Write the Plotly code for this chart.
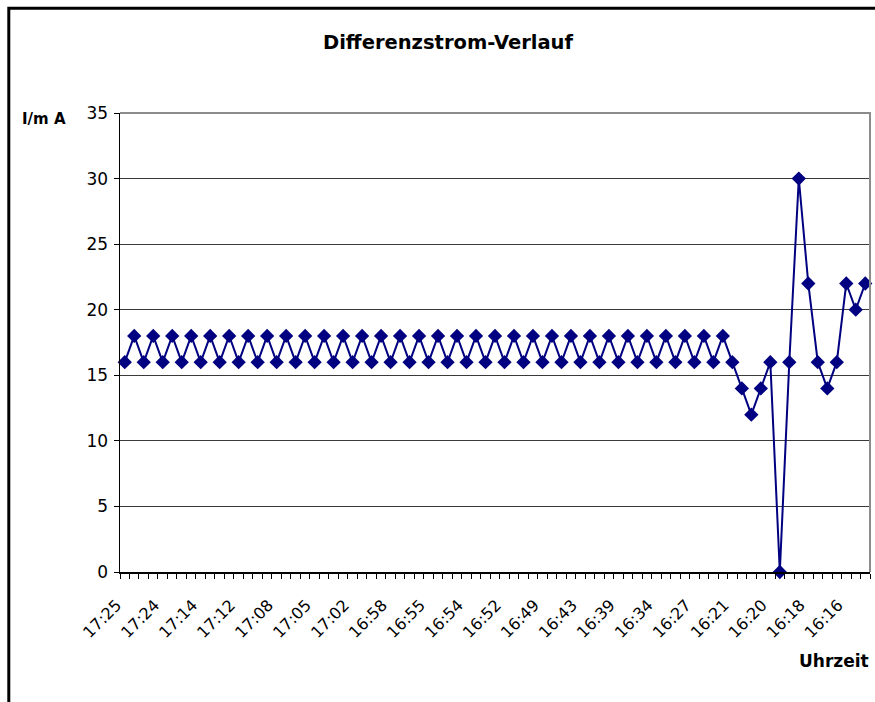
import plotly.graph_objects as go

# Measurement index (one per reading, 79 readings)
readings = list(range(1, 80))

# Differenzstrom in mA
current_mA = [
    16, 18, 16, 18, 16, 18, 16, 18, 16, 18,
    16, 18, 16, 18, 16, 18, 16, 18, 16, 18,
    16, 18, 16, 18, 16, 18, 16, 18, 16, 18,
    16, 18, 16, 18, 16, 18, 16, 18, 16, 18,
    16, 18, 16, 18, 16, 18, 16, 18, 16, 18,
    16, 18, 16, 18, 16, 18, 16, 18, 16, 18,
    16, 18, 16, 18,
    16, 14, 12, 14, 16, 0, 16, 30, 22, 16, 14, 16, 22, 20, 22,
]

# Time labels shown on every fourth reading
time_labels = [
    "17:25", "17:24", "17:14", "17:12", "17:08", "17:05", "17:02",
    "16:58", "16:55", "16:54", "16:52", "16:49", "16:43", "16:39",
    "16:34", "16:27", "16:21", "16:20", "16:18", "16:16",
]
label_positions = readings[::4]

y_ticks = [0, 5, 10, 15, 20, 25, 30, 35]

NAVY = "#000080"
FONT = "DejaVu Sans"

fig = go.Figure()
fig.add_trace(go.Scatter(
    x=readings, y=current_mA, mode="lines+markers",
    line=dict(color=NAVY, width=2),
    marker=dict(symbol="diamond", size=11, color=NAVY),
    showlegend=False, cliponaxis=False, hoverinfo="skip",
))

W, H = 875, 702
L, R, T, B = 120, 870, 113, 572
pw, ph = R - L, B - T

def px(x):
    return (x - L) / pw

def py(y):
    return (B - y) / ph

fig.update_layout(
    width=W, height=H,
    margin=dict(l=L, r=W - R, t=T, b=H - B, autoexpand=False),
    paper_bgcolor="white", plot_bgcolor="white",
    font=dict(family=FONT, color="black"),
    hovermode=False,
    title=dict(
        text="<b>Differenzstrom-Verlauf</b>",
        font=dict(family=FONT, size=19.5, color="black"),
        xref="container", yref="container",
        x=448 / W, y=1 - 42 / H,
        xanchor="center", yanchor="middle",
    ),
    xaxis=dict(
        range=[0.5, 79.5], tickmode="array",
        tickvals=label_positions, ticktext=time_labels,
        tickangle=-45, tickfont=dict(family=FONT, size=16, color="black"),
        ticks="", showgrid=False, zeroline=False,
        ticklabelshift=-8, ticklabelstandoff=16,
        showline=True, linecolor="black", linewidth=1.5,
        minor=dict(tick0=0.5, dtick=1, ticks="outside", ticklen=5,
                   tickcolor="black", tickwidth=1, showgrid=False),
    ),
    yaxis=dict(
        range=[0, 35], tickmode="array", tickvals=y_ticks,
        tickfont=dict(family=FONT, size=17, color="black"),
        ticks="outside", ticklen=5, tickcolor="black", tickwidth=1,
        ticklabelstandoff=2,
        showgrid=True, gridcolor="#3a3a3a", gridwidth=1,
        zeroline=False, showline=True, linecolor="black", linewidth=1.5,
    ),
    shapes=[
        dict(type="path", xref="paper", yref="paper",
             path="M 0,1 L 1,1 L 1,0",
             line=dict(color="#8c8c8c", width=2), layer="above"),
        dict(type="rect", xref="paper", yref="paper",
             x0=px(8.8), x1=px(900), y0=py(740), y1=py(8.3),
             line=dict(color="black", width=3), layer="above"),
    ],
    annotations=[
        dict(text="<b>I/m A</b>", xref="paper", yref="paper",
             x=px(44), y=py(119), xanchor="center", yanchor="middle",
             showarrow=False, font=dict(family=FONT, size=15, color="black")),
        dict(text="<b>Uhrzeit</b>", xref="paper", yref="paper",
             x=px(834), y=py(661), xanchor="center", yanchor="middle",
             showarrow=False, font=dict(family=FONT, size=17, color="black")),
    ],
)

fig.write_html(
    "out.html",
    config={"displayModeBar": False, "staticPlot": True},
    post_script="document.body.style.margin='0';"
                "document.documentElement.style.overflow='hidden';"
                "document.body.style.overflow='hidden';",
)
